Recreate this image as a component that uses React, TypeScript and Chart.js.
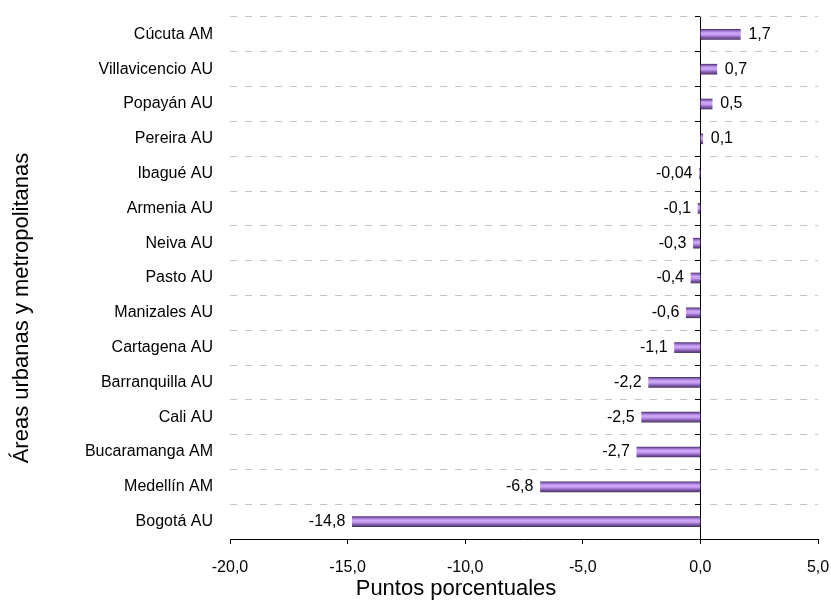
import React, { useEffect, useRef } from "react";
import { Chart, registerables } from "chart.js";

Chart.register(...registerables);

const categories = [
  "Cúcuta AM",
  "Villavicencio AU",
  "Popayán AU",
  "Pereira AU",
  "Ibagué AU",
  "Armenia AU",
  "Neiva AU",
  "Pasto AU",
  "Manizales AU",
  "Cartagena AU",
  "Barranquilla AU",
  "Cali AU",
  "Bucaramanga AM",
  "Medellín AM",
  "Bogotá AU",
];

const values = [1.7, 0.7, 0.5, 0.1, -0.04, -0.1, -0.3, -0.4, -0.6, -1.1, -2.2, -2.5, -2.7, -6.8, -14.8];

const xTicks = [-20, -15, -10, -5, 0, 5];

const xTitle = "Puntos porcentuales";
const yTitle = "Áreas urbanas y metropolitanas";

const FONT = '"Liberation Sans", Arial, sans-serif';
const BAR = 10;

const fmt = (v: number) => String(v).replace(".", ",");

const barFill = (c: any) => {
  const chart = c.chart;
  const ys = chart.scales && chart.scales.y;
  if (c.type !== "data" || !ys || !chart.ctx) return "#b68ae6";
  const yc = ys.getPixelForValue(c.dataIndex);
  if (!isFinite(yc)) return "#b68ae6";
  const top = yc - BAR / 2;
  const g = chart.ctx.createLinearGradient(0, top, 0, top + BAR);
  g.addColorStop(0, "#4f366c");
  g.addColorStop(0.12, "#9068c2");
  g.addColorStop(0.35, "#d0a8f8");
  g.addColorStop(0.55, "#c59cf2");
  g.addColorStop(0.75, "#8e66bc");
  g.addColorStop(0.9, "#6a4b8e");
  g.addColorStop(1, "#4a3266");
  return g;
};

const labelsPlugin = {
  id: "valueLabels",
  afterDatasetsDraw(chart: any) {
    const ctx = chart.ctx;
    const meta = chart.getDatasetMeta(0);
    ctx.save();
    ctx.font = `16px ${FONT}`;
    ctx.fillStyle = "#000";
    ctx.textBaseline = "middle";
    meta.data.forEach((el: any, i: number) => {
      const v = values[i];
      if (v >= 0) {
        ctx.textAlign = "left";
        ctx.fillText(fmt(v), el.x + 8, el.y);
      } else {
        ctx.textAlign = "right";
        ctx.fillText(fmt(v), el.x - 7, el.y);
      }
    });
    ctx.restore();
  },
};

const titlesPlugin = {
  id: "axisTitles",
  afterDraw(chart: any) {
    const ctx = chart.ctx;
    ctx.save();
    ctx.font = `22px ${FONT}`;
    ctx.fillStyle = "#000";
    ctx.textAlign = "center";
    ctx.textBaseline = "middle";
    ctx.fillText(xTitle, 456, 589);
    ctx.translate(22, 308);
    ctx.rotate(-Math.PI / 2);
    ctx.fillText(yTitle, 0, 0);
    ctx.restore();
  },
};

export default function App() {
  const ref = useRef<HTMLCanvasElement | null>(null);

  useEffect(() => {
    if (!ref.current) return;
    const chart = new Chart(ref.current, {
      type: "bar",
      data: {
        labels: categories,
        datasets: [
          {
            data: values,
            backgroundColor: barFill,
            borderWidth: 0,
            barThickness: BAR,
            yAxisID: "y",
          },
        ],
      },
      options: {
        indexAxis: "y",
        animation: false,
        responsive: false,
        devicePixelRatio: 1,
        layout: { padding: { top: 17, right: 13, left: 0, bottom: 0 } },
        plugins: {
          legend: { display: false },
          tooltip: { enabled: false },
        },
        scales: {
          x: {
            type: "linear",
            min: -20,
            max: 5,
            afterBuildTicks: (scale: any) => {
              scale.ticks = xTicks.map((v) => ({ value: v }));
            },
            afterFit: (scale: any) => {
              scale.height = 62;
              scale.paddingLeft = 0;
              scale.paddingRight = 0;
            },
            ticks: {
              color: "#000",
              font: { family: FONT, size: 16 },
              padding: 14,
              maxRotation: 0,
              autoSkip: false,
              callback: (v: any) => Number(v).toFixed(1).replace(".", ","),
            },
            grid: {
              drawOnChartArea: false,
              drawTicks: true,
              tickLength: 5,
              tickColor: "#000",
            },
            border: { display: true, color: "#000", width: 1 },
          },
          y: {
            type: "category",
            position: "left",
            afterFit: (scale: any) => {
              scale.width = 230;
              scale.paddingTop = 0;
              scale.paddingBottom = 0;
            },
            ticks: {
              color: "#000",
              font: { family: FONT, size: 16 },
              padding: 17,
              autoSkip: false,
            },
            grid: {
              offset: true,
              drawTicks: false,
              color: "#c4c4c4",
              lineWidth: 1,
            },
            border: { display: false, dash: [7, 8] },
          },
          y2: {
            type: "category",
            axis: "y",
            position: { x: 0 } as any,
            afterFit: (scale: any) => {
              scale.width = 0;
              scale.paddingTop = 0;
              scale.paddingBottom = 0;
              scale.paddingLeft = 0;
              scale.paddingRight = 0;
            },
            ticks: { display: false },
            grid: {
              offset: true,
              drawOnChartArea: false,
              drawTicks: true,
              tickLength: 5,
              tickColor: "#000",
            },
            border: { display: true, color: "#000", width: 1 },
          },
        },
      } as any,
      plugins: [labelsPlugin, titlesPlugin],
    });
    return () => chart.destroy();
  }, []);

  return (
    <div style={{ position: "absolute", left: 0, top: 0, width: 831, height: 601, background: "#fff" }}>
      <canvas ref={ref} width={831} height={601} style={{ display: "block" }} />
    </div>
  );
}
